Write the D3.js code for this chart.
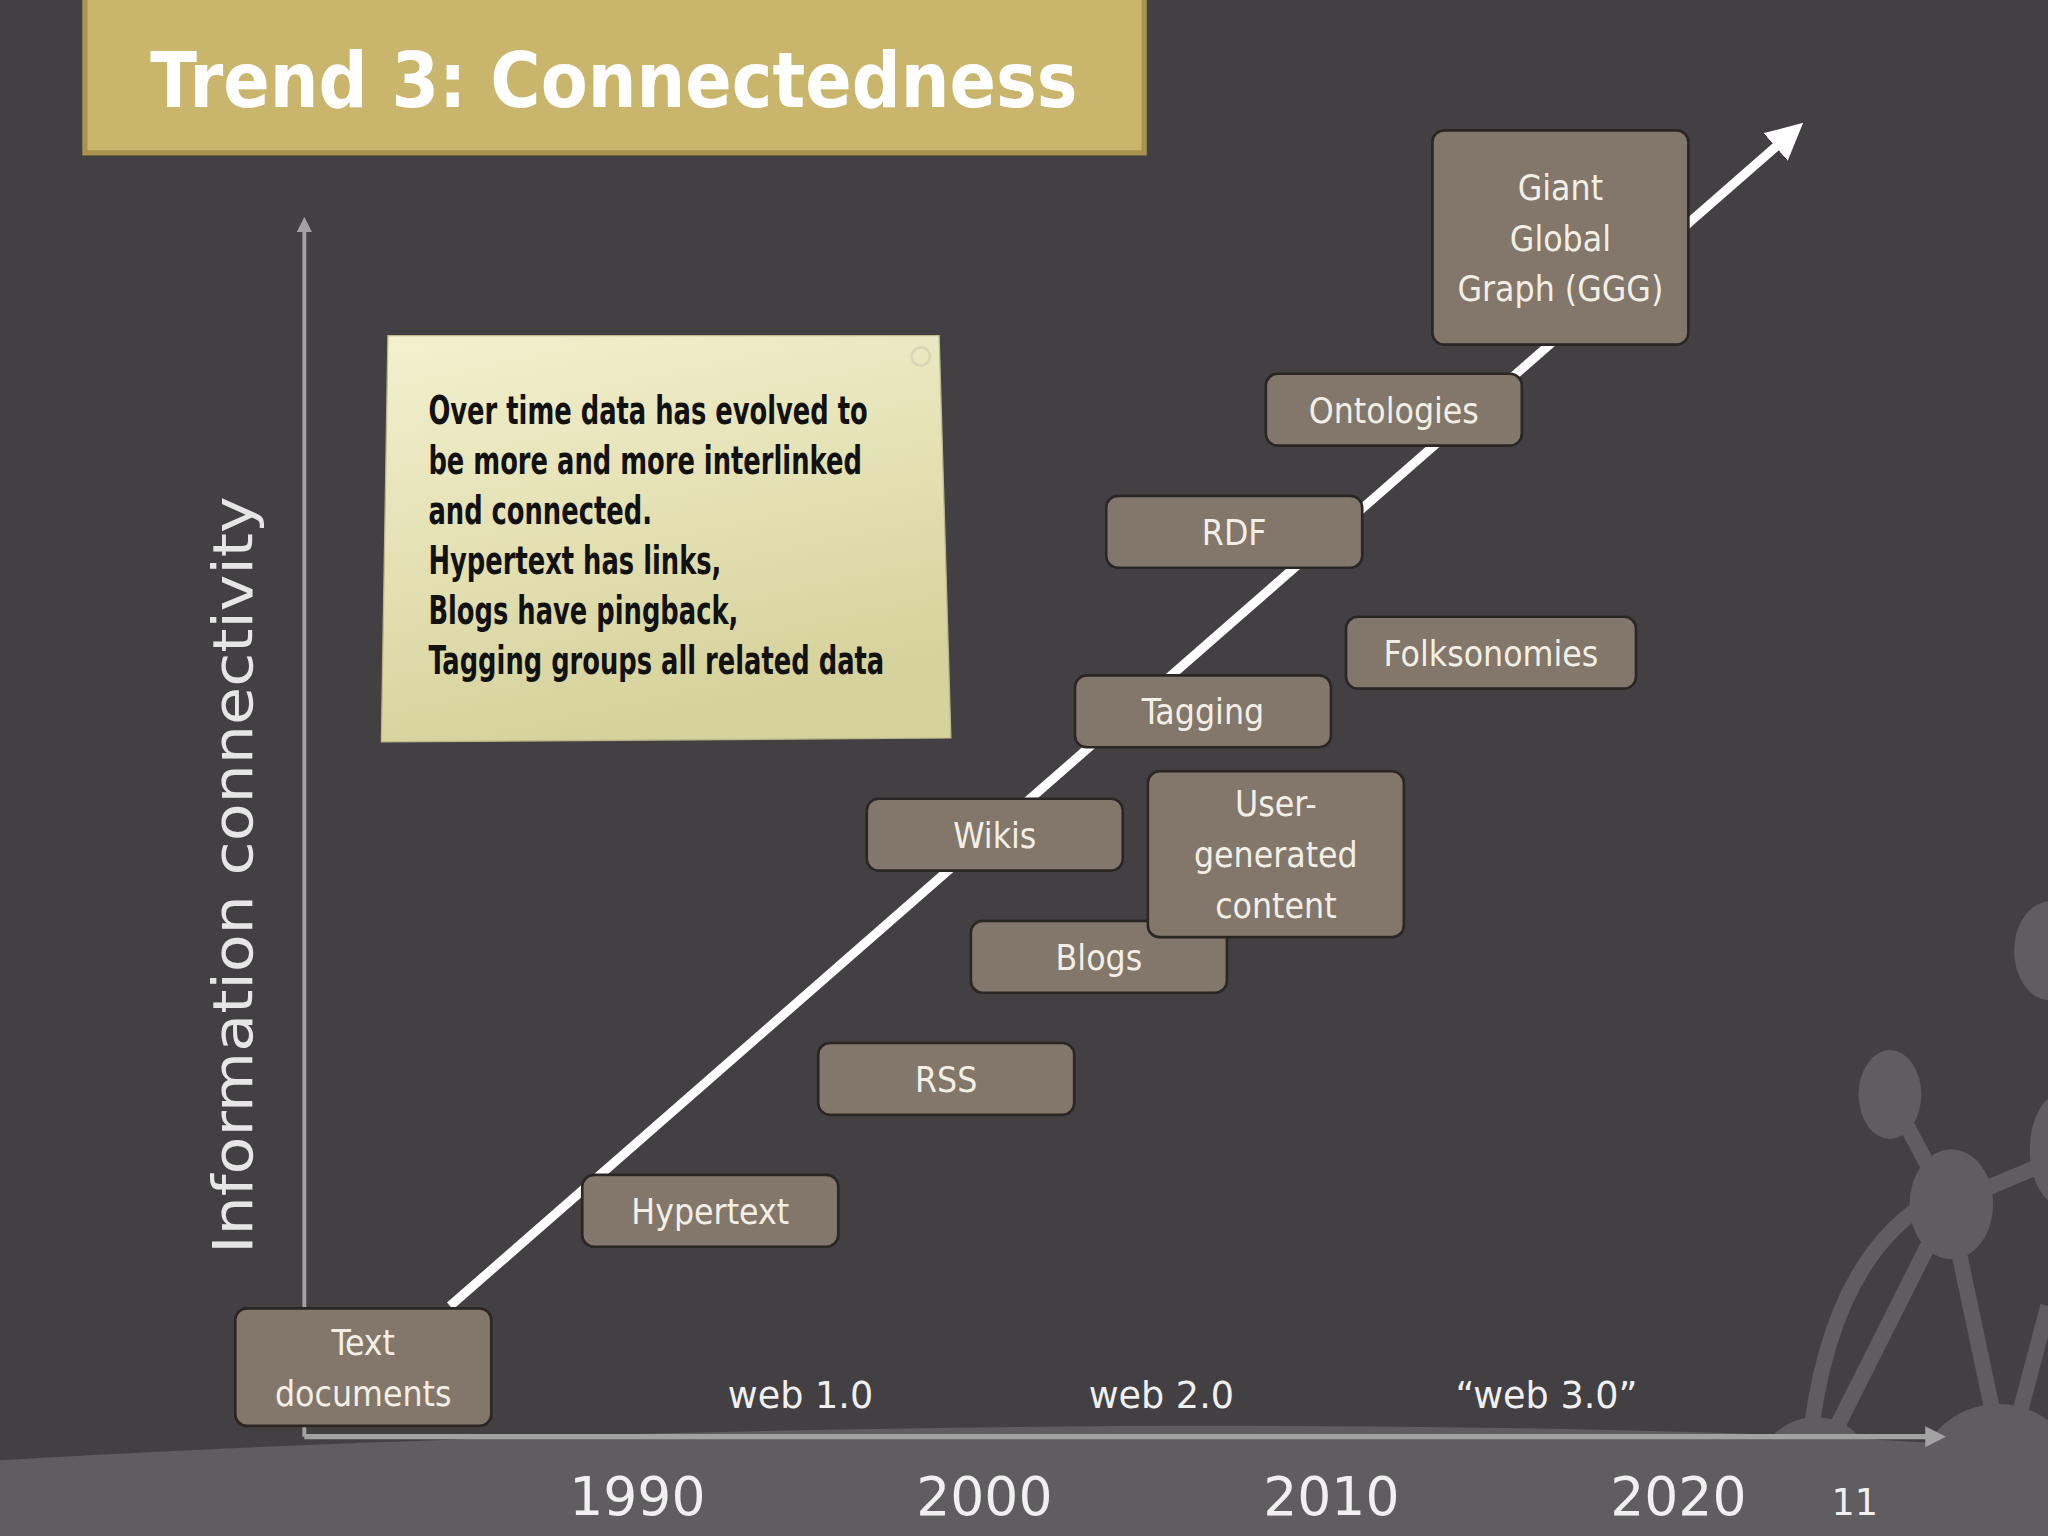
<!DOCTYPE html>
<html lang="en">
<head>
<meta charset="UTF-8">
<script src="https://d3js.org/d3.v7.min.js"></script>
<style>
  body { margin: 0; background: #424042; }
  .box rect { fill: #82776a; stroke: #2a2624; stroke-width: 2px; }
  .box text { fill: #f3efe6; font-family: "DejaVu Sans Condensed", "DejaVu Sans"; font-size: 27px; text-anchor: middle; }
  .year { fill: #f0f0f0; font-family: "DejaVu Sans"; font-size: 41px; text-anchor: middle; }
  .web { fill: #f0f0f0; font-family: "DejaVu Sans"; font-size: 28px; text-anchor: middle; }
</style>
</head>
<body>
<script>
// timeline items: label lines, year (centre), connectivity (centre)
const labels = [
  ["Text", "documents"], ["Hypertext"], ["RSS"], ["Blogs"], ["Wikis"],
  ["User-", "generated", "content"], ["Tagging"], ["Folksonomies"], ["RDF"],
  ["Ontologies"], ["Giant", "Global", "Graph (GGG)"]
];
const years = [1982.1, 1992.1, 1998.9, 2003.3, 2000.3, 2008.4, 2006.3, 2014.6, 2007.2, 2011.8, 2016.6];
const connectivity = [0.57, 1.85, 2.93, 3.93, 4.93, 4.77, 5.94, 6.42, 7.41, 8.41, 9.82];
const yearTicks = [1990, 2000, 2010, 2020];
const eras = ["web 1.0", "web 2.0", "\u201cweb 3.0\u201d"];
const eraYears = [1994.7, 2005.1, 2016.2];
const trend = [[1984.6, 1.07], [2023.2, 10.66]];
const noteLines = [
  "Over time data has evolved to", "be more and more interlinked", "and connected.",
  "Hypertext has links,", "Blogs have pingback,", "Tagging groups all related data"
];

const svg = d3.select("body").append("svg")
  .attr("width", 2048).attr("height", 1536)
  .attr("viewBox", "0 0 1568 1176");

const x = d3.scaleLinear().domain([1990, 2020]).range([488, 1285]);
const y = d3.scaleLinear().domain([0, 10]).range([1100, 165]);

const defs = svg.append("defs");
const g = defs.append("linearGradient").attr("id", "note").attr("x1", 0).attr("y1", 0).attr("x2", 0.3).attr("y2", 1);
g.append("stop").attr("offset", 0).attr("stop-color", "#f3f1cf");
g.append("stop").attr("offset", 1).attr("stop-color", "#d6d29c");
defs.append("marker").attr("id", "ah").attr("viewBox", "0 0 10 10").attr("refX", 5).attr("refY", 5)
  .attr("markerWidth", 4).attr("markerHeight", 4).attr("orient", "auto")
  .append("path").attr("d", "M0,0L10,5L0,10Z").attr("fill", "#fff");
defs.append("marker").attr("id", "ag").attr("viewBox", "0 0 10 10").attr("refX", 5).attr("refY", 5)
  .attr("markerWidth", 4).attr("markerHeight", 4).attr("orient", "auto")
  .append("path").attr("d", "M0,0L10,5L0,10Z").attr("fill", "#a2a2a2");

// background
svg.append("rect").attr("width", 1568).attr("height", 1176).attr("fill", "#424042");
const bg = svg.append("g").attr("fill", "#5f5d5f").attr("stroke", "#5f5d5f");
bg.append("path").attr("stroke", "none")
  .attr("d", "M0,1118 C300,1100 900,1080 1400,1100 L1568,1110 L1568,1176 L0,1176Z");
[[1447, 838, 1492, 922], [1492, 922, 1568, 890], [1492, 922, 1535, 1125], [1492, 922, 1390, 1125], [1535, 1125, 1568, 1000]]
  .forEach(l => bg.append("line").attr("x1", l[0]).attr("y1", l[1]).attr("x2", l[2]).attr("y2", l[3]).attr("stroke-width", 12));
bg.append("path").attr("fill", "none").attr("stroke-width", 12).attr("d", "M1485,915 Q1400,960 1385,1110");
[[1447, 838, 24, 34], [1494, 922, 32, 42], [1570, 728, 28, 38], [1580, 880, 26, 44], [1390, 1130, 45, 45], [1530, 1130, 60, 55]]
  .forEach(c => bg.append("ellipse").attr("cx", c[0]).attr("cy", c[1]).attr("rx", c[2]).attr("ry", c[3]).attr("stroke", "none"));

// title
svg.append("rect").attr("x", 65).attr("y", -4).attr("width", 811).attr("height", 121)
  .attr("fill", "#c9b66c").attr("stroke", "#a8934e").attr("stroke-width", 4);
svg.append("text").attr("x", 115).attr("y", 82).text("Trend 3: Connectedness")
  .attr("fill", "#fff").attr("font-family", "DejaVu Sans").attr("font-weight", "bold")
  .attr("font-size", 58).attr("textLength", 710).attr("lengthAdjust", "spacingAndGlyphs");

// axes
svg.append("line").attr("x1", 233).attr("y1", 1100).attr("x2", 233).attr("y2", 172)
  .attr("stroke", "#a2a2a2").attr("stroke-width", 3).attr("marker-end", "url(#ag)");
svg.append("line").attr("x1", 233).attr("y1", 1100).attr("x2", 1482).attr("y2", 1100)
  .attr("stroke", "#a2a2a2").attr("stroke-width", 4).attr("marker-end", "url(#ag)");
svg.append("text").attr("transform", "translate(193,670) rotate(-90)")
  .attr("text-anchor", "middle").attr("fill", "#e6e6e6").attr("font-family", "DejaVu Sans")
  .attr("font-size", 42).attr("textLength", 580).attr("lengthAdjust", "spacingAndGlyphs")
  .text("Information connectivity");

svg.selectAll(".year").data(yearTicks).join("text").attr("class", "year")
  .attr("x", d => x(d)).attr("y", 1160).text(d => d);
svg.append("text").attr("x", 1420).attr("y", 1160).attr("fill", "#f0f0f0")
  .attr("font-family", "DejaVu Sans").attr("font-size", 28).attr("text-anchor", "middle").text("11");
svg.selectAll(".web").data(eras).join("text").attr("class", "web")
  .attr("x", (d, i) => x(eraYears[i])).attr("y", 1078).text(d => d);

// trend line
svg.append("line").attr("x1", x(trend[0][0])).attr("y1", y(trend[0][1]))
  .attr("x2", x(trend[1][0])).attr("y2", y(trend[1][1]))
  .attr("stroke", "#fff").attr("stroke-width", 7).attr("marker-end", "url(#ah)");

// sticky note
svg.append("path").attr("d", "M297,257L719,257L728,565L292,568Z").attr("fill", "url(#note)")
  .attr("stroke", "#bdb98a").attr("stroke-width", 1);
svg.append("circle").attr("cx", 705).attr("cy", 273).attr("r", 7).attr("fill", "none").attr("stroke", "#d8d6b8").attr("stroke-width", 2);
const note = svg.append("g").attr("font-family", "DejaVu Sans Condensed").attr("font-weight", "bold")
  .attr("font-size", 30).attr("fill", "#111");
const nl = note.selectAll("text").data(noteLines).join("text")
  .attr("y", (d, i) => 325 + i * 38.2).text(d => d);
const maxLen = d3.max(nl.nodes(), n => n.getComputedTextLength());
const sx = 349 / maxLen;
note.attr("transform", `translate(328,0) scale(${sx},1)`);

// boxes
const items = labels.map((l, i) => ({ l, cx: x(years[i]), cy: y(connectivity[i]) }));
const box = svg.selectAll(".box").data(items).join("g").attr("class", "box");
box.append("rect")
  .attr("width", d => d.l[0] === "Folksonomies" ? 222 : 196)
  .attr("height", d => d.l.length === 1 ? 55 : d.l.length === 2 ? 90 : d.l[0] === "Giant" ? 164 : 127)
  .attr("x", function (d) { return d.cx - this.getAttribute("width") / 2; })
  .attr("y", function (d) { return d.cy - this.getAttribute("height") / 2; })
  .attr("rx", 9);
box.each(function (d) {
  const n = d.l.length, lh = 39;
  d3.select(this).selectAll("text").data(d.l).join("text")
    .attr("x", d.cx).attr("y", (t, i) => d.cy + (i - (n - 1) / 2) * lh + 10).text(t => t);
});
</script>
</body>
</html>
